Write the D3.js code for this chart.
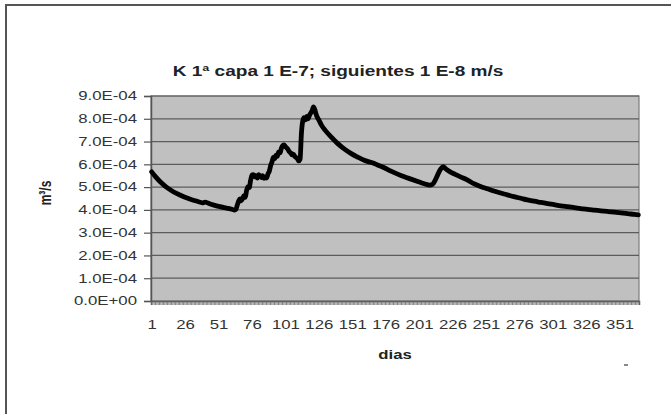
<!DOCTYPE html>
<html>
<head>
<meta charset="utf-8">
<script src="https://cdn.jsdelivr.net/npm/d3@7"></script>
<style>
  body { margin: 0; background: #fff; overflow: hidden; }
  svg { display: block; }
  text { font-family: "Liberation Sans", Arial, sans-serif; }
</style>
</head>
<body>
<svg id="chart" width="671" height="414"></svg>
<script>
// Chart texts
const chartTitle = "K 1ª capa 1 E-7; siguientes 1 E-8 m/s";
const xTitle = "dias";
const yTitle = "m³/s";

// Daily discharge (m³/s), sampled day numbers and values
const days = [
  1, 4, 8, 12, 16, 20, 25, 30, 35, 39, 41, 43, 47, 52, 57, 61, 63,
  64, 65, 66, 67, 68, 69, 70, 71, 72, 73, 74, 75, 76, 77, 78, 79, 80,
  81, 82, 83, 84, 85, 86, 87, 88, 89, 90, 91, 92, 93, 94, 95, 96, 97,
  98, 99, 100, 101, 102, 103, 104, 105, 106, 107, 108, 109, 110, 111,
  112, 113, 114, 115, 116, 117, 118, 119, 120, 121, 122, 123, 124, 125,
  126, 128, 131, 135, 140, 145, 150, 155, 160, 163, 166, 170, 175, 180,
  185, 190, 195, 200, 205, 209, 211, 213, 215, 217, 219, 221, 224, 228,
  232, 237, 242, 247, 252, 257, 262, 267, 272, 277, 282, 287, 292, 297,
  302, 307, 312, 317, 322, 327, 332, 337, 342, 347, 352, 357, 362, 365
];
const caudal = [
  5.67e-4, 5.45e-4, 5.20e-4, 5.00e-4, 4.84e-4, 4.71e-4, 4.58e-4, 4.47e-4, 4.38e-4, 4.31e-4, 4.34e-4, 4.30e-4, 4.22e-4, 4.14e-4, 4.08e-4, 4.03e-4, 3.99e-4,
  4.02e-4, 4.20e-4, 4.38e-4, 4.48e-4, 4.40e-4, 4.50e-4, 4.62e-4, 4.55e-4, 4.85e-4, 5.02e-4, 4.98e-4, 5.30e-4, 5.52e-4, 5.55e-4, 5.45e-4, 5.50e-4, 5.40e-4,
  5.55e-4, 5.48e-4, 5.42e-4, 5.50e-4, 5.38e-4, 5.45e-4, 5.40e-4, 5.58e-4, 5.70e-4, 5.95e-4, 6.10e-4, 6.30e-4, 6.25e-4, 6.40e-4, 6.35e-4, 6.55e-4, 6.50e-4,
  6.70e-4, 6.82e-4, 6.85e-4, 6.78e-4, 6.72e-4, 6.65e-4, 6.55e-4, 6.50e-4, 6.42e-4, 6.45e-4, 6.35e-4, 6.30e-4, 6.25e-4, 6.15e-4,
  6.22e-4, 7.35e-4, 7.90e-4, 8.05e-4, 7.95e-4, 8.10e-4, 8.00e-4, 8.15e-4, 8.25e-4, 8.35e-4, 8.52e-4, 8.40e-4, 8.20e-4, 8.05e-4,
  7.95e-4, 7.72e-4, 7.48e-4, 7.22e-4, 6.92e-4, 6.68e-4, 6.48e-4, 6.32e-4, 6.18e-4, 6.12e-4, 6.07e-4, 5.97e-4, 5.85e-4, 5.70e-4,
  5.57e-4, 5.45e-4, 5.35e-4, 5.25e-4, 5.15e-4, 5.09e-4, 5.12e-4, 5.30e-4, 5.55e-4, 5.78e-4, 5.90e-4, 5.80e-4, 5.68e-4, 5.56e-4,
  5.45e-4, 5.32e-4, 5.15e-4, 5.03e-4, 4.93e-4, 4.83e-4, 4.74e-4, 4.66e-4, 4.58e-4, 4.51e-4, 4.44e-4, 4.38e-4, 4.33e-4, 4.28e-4,
  4.23e-4, 4.18e-4, 4.14e-4, 4.10e-4, 4.06e-4, 4.02e-4, 3.99e-4, 3.96e-4, 3.93e-4, 3.90e-4, 3.87e-4, 3.84e-4, 3.80e-4, 3.78e-4
];

// Axis ticks
const xTickDays = [1, 26, 51, 76, 101, 126, 151, 176, 201, 226, 251, 276, 301, 326, 351];
const yTicks = [0, 1e-4, 2e-4, 3e-4, 4e-4, 5e-4, 6e-4, 7e-4, 8e-4, 9e-4];
const dayCount = 365;

// Layout
const plot = { left: 151, right: 639, top: 96, bottom: 301 };
const textStretch = 1.4;

const svg = d3.select("#chart");

// Outer chart frame (only its top and left edges fall inside the view)
svg.append("rect")
  .attr("x", 6).attr("y", 5)
  .attr("width", 2000).attr("height", 2000)
  .attr("fill", "#fff")
  .attr("stroke", "#555").attr("stroke-width", 2);

const x = d3.scaleLinear().domain([0.5, dayCount + 0.5]).range([plot.left, plot.right]);
const y = d3.scaleLinear().domain([0, 9e-4]).range([plot.bottom, plot.top]);

// Plot area background
svg.append("rect")
  .attr("x", plot.left).attr("y", plot.top)
  .attr("width", plot.right - plot.left).attr("height", plot.bottom - plot.top)
  .attr("fill", "#c0c0c0")
  .attr("stroke", "#7a7a7a").attr("stroke-width", 1.2);

// Scientific-notation labels, e.g. 9.0E-04
function fmtE(v) {
  const [m, e] = v.toExponential(1).split("e");
  const n = parseInt(e, 10);
  return m + "E" + (n < 0 ? "-" : "+") + String(Math.abs(n)).padStart(2, "0");
}

// Horizontal gridlines
svg.append("g")
  .selectAll("line")
  .data(yTicks.filter(d => d > 0))
  .join("line")
  .attr("x1", plot.left).attr("x2", plot.right)
  .attr("y1", d => y(d)).attr("y2", d => y(d))
  .attr("stroke", "#5c5c5c").attr("stroke-width", 1.2);

// Y axis
const yAxis = svg.append("g")
  .attr("transform", `translate(${plot.left},0)`)
  .call(d3.axisLeft(y).tickValues(yTicks).tickFormat(fmtE).tickSize(7).tickPadding(7));
yAxis.select(".domain").attr("stroke", "#555").attr("stroke-width", 1.5);
yAxis.selectAll(".tick line").attr("stroke", "#555").attr("stroke-width", 1.2);
yAxis.selectAll(".tick text")
  .attr("x", -14 / textStretch)
  .attr("transform", `scale(${textStretch},1)`)
  .attr("font-size", 12)
  .attr("fill", "#333");

// X axis: category tick marks
const xCatAxis = svg.append("g")
  .attr("transform", `translate(0,${plot.bottom})`)
  .call(d3.axisBottom(x).tickValues(d3.range(0.5, dayCount + 1, 1)).tickFormat("").tickSize(4));
xCatAxis.select(".domain").attr("stroke", "#555").attr("stroke-width", 1.5);
xCatAxis.selectAll(".tick line").attr("stroke", "#666").attr("stroke-width", 0.8);

// X axis: day labels
const xLabAxis = svg.append("g")
  .attr("transform", `translate(0,${plot.bottom})`)
  .call(d3.axisBottom(x).tickValues(xTickDays).tickFormat(d3.format("d")).tickSize(0).tickPadding(19));
xLabAxis.select(".domain").remove();
xLabAxis.selectAll(".tick text")
  .attr("transform", `scale(${textStretch},1)`)
  .attr("font-size", 12)
  .attr("fill", "#333");

// Series line
const line = d3.line()
  .x((d, i) => x(days[i]))
  .y(d => y(d))
  .curve(d3.curveMonotoneX);

svg.append("path")
  .datum(caudal)
  .attr("d", line)
  .attr("fill", "none")
  .attr("stroke", "#000")
  .attr("stroke-width", 4.8)
  .attr("stroke-linejoin", "round")
  .attr("stroke-linecap", "round");

// Title
svg.append("text")
  .attr("transform", `translate(338,76) scale(1.36,1)`)
  .attr("text-anchor", "middle")
  .attr("font-size", 14)
  .attr("font-weight", "bold")
  .attr("fill", "#222")
  .text(chartTitle);

// Axis titles
svg.append("text")
  .attr("transform", `translate(395,359) scale(${textStretch},1)`)
  .attr("text-anchor", "middle")
  .attr("font-size", 12)
  .attr("font-weight", "bold")
  .attr("fill", "#222")
  .text(xTitle);

svg.append("text")
  .attr("transform", `translate(51,193) scale(${textStretch},1) rotate(-90)`)
  .attr("text-anchor", "middle")
  .attr("font-size", 12)
  .attr("font-weight", "bold")
  .attr("fill", "#222")
  .text(yTitle);

// Small mark in the lower right of the frame
svg.append("line")
  .attr("x1", 624).attr("x2", 628)
  .attr("y1", 365).attr("y2", 365)
  .attr("stroke", "#888").attr("stroke-width", 2);
</script>
</body>
</html>
